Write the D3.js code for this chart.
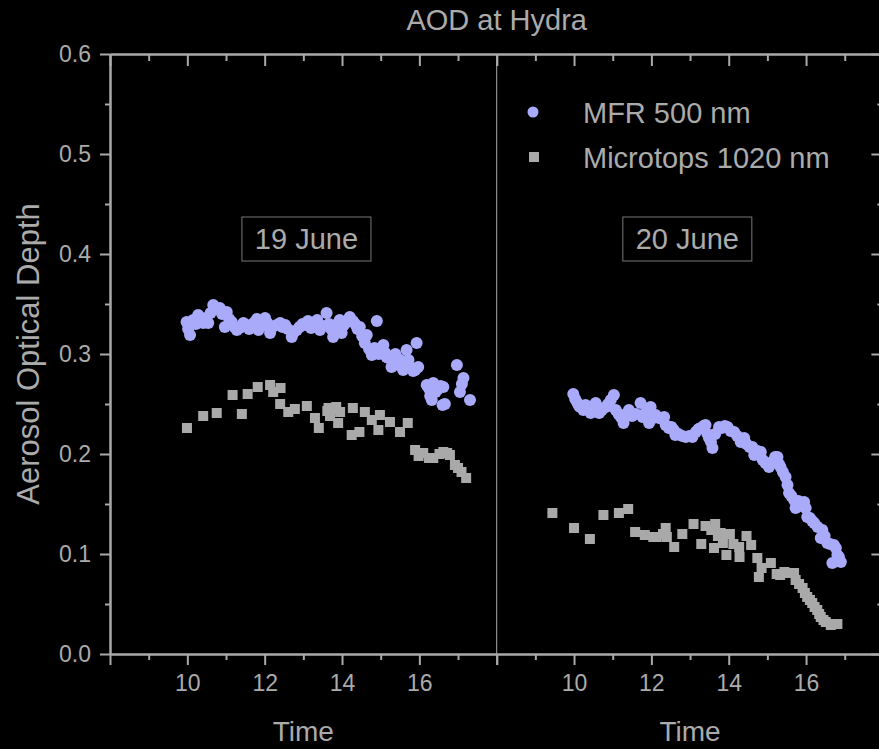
<!DOCTYPE html>
<html>
<head>
<meta charset="utf-8">
<script src="https://cdn.jsdelivr.net/npm/d3@7"></script>
<style>
  html, body { margin: 0; padding: 0; background: #000; overflow: hidden; }
  text { font-family: "Liberation Sans", Arial, sans-serif; fill: #ababab; }
</style>
</head>
<body>
<script>
// ---- data: [hour, aod] ----
var mfr19 = [
  [9.98,.332],[10.02,.325],[10.07,.319],[10.15,.334],[10.22,.330],[10.28,.339],[10.35,.334],[10.41,.331],
  [10.48,.336],[10.54,.331],[10.60,.341],[10.67,.349],[10.72,.345],[10.78,.346],[10.84,.346],[10.90,.340],
  [10.97,.327],[11.02,.342],[11.08,.335],[11.15,.332],[11.22,.327],[11.28,.324],[11.35,.326],[11.45,.331],
  [11.52,.328],[11.60,.325],[11.68,.330],[11.75,.332],[11.80,.335],[11.84,.324],[11.92,.328],[12.01,.336],
  [12.07,.331],[12.14,.321],[12.20,.327],[12.31,.329],[12.40,.331],[12.46,.327],[12.53,.329],[12.60,.325],
  [12.70,.317],[12.76,.322],[12.83,.324],[12.90,.327],[12.98,.330],[13.04,.329],[13.12,.333],[13.20,.326],
  [13.30,.332],[13.36,.334],[13.43,.324],[13.50,.328],[13.60,.341],[13.66,.330],[13.72,.325],[13.77,.317],
  [13.82,.329],[13.88,.326],[13.94,.334],[13.99,.321],[14.05,.329],[14.12,.332],[14.20,.337],[14.28,.333],
  [14.34,.330],[14.40,.325],[14.46,.327],[14.52,.318],[14.59,.311],[14.64,.319],[14.70,.305],[14.77,.299],
  [14.84,.306],[14.90,.333],[14.95,.300],[15.03,.304],[15.07,.309],[15.12,.301],[15.15,.297],[15.20,.296],
  [15.28,.287],[15.33,.292],[15.38,.300],[15.42,.296],[15.46,.289],[15.50,.294],[15.55,.292],[15.58,.284],
  [15.62,.290],[15.67,.304],[15.72,.294],[15.78,.286],[15.84,.283],[15.89,.284],[15.93,.311],[15.97,.287],
  [16.19,.269],[16.24,.266],[16.28,.258],[16.32,.254],[16.36,.271],[16.42,.262],[16.48,.265],[16.55,.268],
  [16.62,.267],[16.60,.249],[16.66,.250],[16.97,.289],[17.05,.262],[17.10,.270],[17.14,.276],[17.31,.254]
];
var mtp19 = [
  [9.99,.226],[10.41,.238],[10.76,.241],[11.17,.259],[11.41,.240],[11.56,.260],[11.82,.267],[12.14,.269],
  [12.22,.262],[12.41,.266],[12.40,.250],[12.61,.242],[12.78,.245],[13.09,.248],[13.30,.236],[13.40,.226],
  [13.62,.243],[13.65,.246],[13.69,.238],[13.77,.245],[13.85,.247],[13.90,.231],[13.95,.242],[14.28,.246],
  [14.25,.219],[14.45,.222],[14.59,.242],[14.77,.234],[14.98,.239],[14.94,.224],[15.24,.232],[15.50,.222],
  [15.70,.231],[15.89,.204],[15.98,.198],[16.10,.201],[16.25,.196],[16.36,.196],[16.52,.200],[16.62,.202],
  [16.72,.201],[16.79,.199],[16.92,.189],[17.00,.186],[17.09,.182],[17.21,.176]
];
var mfr20 = [
  [9.98,.260],[10.03,.255],[10.09,.251],[10.13,.248],[10.17,.247],[10.24,.244],[10.30,.249],[10.36,.246],
  [10.43,.241],[10.50,.244],[10.56,.251],[10.62,.246],[10.65,.241],[10.72,.244],[10.82,.247],[10.88,.250],
  [10.95,.254],[11.03,.259],[11.08,.244],[11.15,.240],[11.21,.237],[11.28,.231],[11.35,.240],[11.42,.244],
  [11.50,.238],[11.60,.240],[11.72,.251],[11.77,.237],[11.82,.240],[11.88,.242],[11.94,.231],[11.98,.247],
  [12.05,.236],[12.11,.239],[12.20,.236],[12.28,.235],[12.33,.237],[12.37,.229],[12.45,.226],[12.52,.227],
  [12.58,.224],[12.62,.219],[12.70,.220],[12.80,.218],[12.89,.217],[12.98,.218],[13.06,.217],[13.15,.222],
  [13.22,.225],[13.28,.226],[13.35,.228],[13.40,.229],[13.45,.220],[13.49,.216],[13.54,.212],[13.58,.206],
  [13.65,.220],[13.75,.227],[13.82,.226],[13.90,.228],[13.97,.227],[14.05,.223],[14.14,.222],[14.22,.218],
  [14.31,.212],[14.40,.216],[14.46,.210],[14.54,.207],[14.61,.207],[14.66,.199],[14.75,.203],[14.83,.202],
  [14.88,.194],[14.95,.191],[15.04,.187],[15.12,.192],[15.20,.197],[15.26,.197],[15.30,.190],[15.34,.187],
  [15.40,.182],[15.47,.177],[15.52,.169],[15.56,.161],[15.62,.158],[15.69,.154],[15.73,.146],[15.80,.153],
  [15.88,.148],[15.95,.152],[15.99,.146],[16.03,.137],[16.10,.136],[16.16,.133],[16.21,.131],[16.30,.127],
  [16.38,.116],[16.42,.124],[16.48,.118],[16.55,.111],[16.62,.110],[16.68,.091],[16.72,.109],[16.77,.106],
  [16.81,.099],[16.85,.097],[16.90,.092]
];
var mtp20 = [
  [9.44,.141],[10.00,.126],[10.41,.115],[10.76,.139],[11.16,.141],[11.40,.145],[11.58,.122],[11.83,.119],
  [12.05,.117],[12.14,.117],[12.30,.120],[12.37,.126],[12.40,.117],[12.59,.107],[12.80,.120],[13.09,.130],
  [13.29,.110],[13.40,.128],[13.55,.124],[13.62,.106],[13.65,.130],[13.72,.118],[13.79,.121],[13.85,.111],
  [13.94,.099],[14.03,.120],[14.12,.110],[14.27,.107],[14.28,.097],[14.46,.118],[14.58,.109],[14.74,.096],
  [14.78,.077],[14.85,.086],[15.09,.091],[15.24,.080],[15.33,.079],[15.44,.082],[15.52,.081],[15.69,.081],
  [15.73,.074],[15.82,.070],[15.91,.066],[15.97,.061],[16.03,.057],[16.10,.054],[16.16,.051],[16.22,.047],
  [16.29,.044],[16.34,.040],[16.38,.037],[16.45,.034],[16.51,.032],[16.64,.029],[16.75,.030],[16.81,.030]
];

var days = ["19 June", "20 June"];
var seriesNames = ["MFR 500 nm", "Microtops 1020 nm"];
var yTicks = [0, 0.1, 0.2, 0.3, 0.4, 0.5, 0.6];
var yMinor = [0.05, 0.15, 0.25, 0.35, 0.45, 0.55];
var xMajor = [8, 10, 12, 14, 16, 18];
var xMinor = [9, 11, 13, 15, 17];
var xLabels = [10, 12, 14, 16];

var width = 879, height = 749;
var plotTop = 54, plotBottom = 654;
var panelW = 386.7;
var left0 = 110, left1 = left0 + panelW;

var axisColor = "#a9a9a9",
    mfrColor = "#aaaafa",
    mtpColor = "#a9a9a9";

var svg = d3.select("body").append("svg")
    .attr("width", width)
    .attr("height", height)
    .style("background", "#000");

var y = d3.scaleLinear().domain([0, 0.6]).range([plotBottom, plotTop]);

var panels = [
  { x: d3.scaleLinear().domain([8, 18]).range([left0, left1]), mfr: mfr19, mtp: mtp19, day: days[0], boxAt: [13.08, 0.415] },
  { x: d3.scaleLinear().domain([8, 18]).range([left1, left1 + panelW]), mfr: mfr20, mtp: mtp20, day: days[1], boxAt: [12.93, 0.415] }
];

function styleAxis(g) {
  g.selectAll("path, line").attr("stroke", axisColor).attr("stroke-width", 2);
  g.selectAll("text").attr("fill", "#ababab").style("font-size", "23px")
    .style("font-family", '"Liberation Sans", Arial, sans-serif');
}

// divider between the days
svg.append("line")
    .attr("x1", left1).attr("x2", left1)
    .attr("y1", plotTop).attr("y2", plotBottom)
    .attr("stroke", axisColor).attr("stroke-width", 1);

panels.forEach(function(p) {
  // bottom axis: outward ticks
  var gb = svg.append("g").attr("transform", "translate(0," + plotBottom + ")");
  gb.call(d3.axisBottom(p.x).tickValues(xMajor).tickSize(11).tickSizeOuter(0).tickPadding(10)
      .tickFormat(function(d) { return xLabels.indexOf(d) >= 0 ? d : ""; }));
  gb.append("g").call(d3.axisBottom(p.x).tickValues(xMinor).tickSize(6).tickSizeOuter(0).tickFormat(""));
  styleAxis(gb);

  // top axis: inward ticks
  var gt = svg.append("g").attr("transform", "translate(0," + plotTop + ")");
  gt.call(d3.axisTop(p.x).tickValues(xMajor).tickSize(-12).tickSizeOuter(0).tickFormat(""));
  gt.append("g").call(d3.axisTop(p.x).tickValues(xMinor).tickSize(-7).tickSizeOuter(0).tickFormat(""));
  styleAxis(gt);

  svg.append("text")
      .attr("x", d3.mean(p.x.range()))
      .attr("y", 741)
      .attr("text-anchor", "middle")
      .style("font-size", "28px")
      .text("Time");

  // date box
  var bx = p.x(p.boxAt[0]), by = y(p.boxAt[1]);
  svg.append("rect")
      .attr("x", bx - 64.5).attr("y", by - 22)
      .attr("width", 129).attr("height", 44)
      .attr("fill", "none").attr("stroke", "#777").attr("stroke-width", 1);
  svg.append("text")
      .attr("x", bx).attr("y", by + 10)
      .attr("text-anchor", "middle")
      .style("font-size", "29px")
      .text(p.day);

  svg.append("g").selectAll("rect")
      .data(p.mtp)
      .join("rect")
      .attr("x", function(d) { return p.x(d[0]) - 5; })
      .attr("y", function(d) { return y(d[1]) - 5; })
      .attr("width", 10).attr("height", 10)
      .attr("fill", mtpColor);

  svg.append("g").selectAll("circle")
      .data(p.mfr)
      .join("circle")
      .attr("cx", function(d) { return p.x(d[0]); })
      .attr("cy", function(d) { return y(d[1]); })
      .attr("r", 6)
      .attr("fill", mfrColor);
});

// left y axis: outward ticks with labels
var gl = svg.append("g").attr("transform", "translate(" + left0 + ",0)");
gl.call(d3.axisLeft(y).tickValues(yTicks).tickSize(10).tickSizeOuter(0).tickPadding(9).tickFormat(d3.format(".1f")));
gl.append("g").call(d3.axisLeft(y).tickValues(yMinor).tickSize(5).tickSizeOuter(0).tickFormat(""));
styleAxis(gl);

// right y axis: inward ticks (sits just past the right edge)
var rightX = left1 + panelW;
var gr = svg.append("g").attr("transform", "translate(" + rightX + ",0)");
gr.call(d3.axisLeft(y).tickValues(yTicks).tickSize(12).tickSizeOuter(0).tickFormat(""));
gr.append("g").call(d3.axisLeft(y).tickValues(yMinor).tickSize(6).tickSizeOuter(0).tickFormat(""));
styleAxis(gr);

// titles
svg.append("text")
    .attr("x", left1).attr("y", 30)
    .attr("text-anchor", "middle")
    .style("font-size", "29px")
    .text("AOD at Hydra");

svg.append("text")
    .attr("transform", "translate(39," + (plotTop + plotBottom) / 2 + ") rotate(-90)")
    .attr("text-anchor", "middle")
    .style("font-size", "31px")
    .text("Aerosol Optical Depth");

// legend
var legend = svg.append("g");
legend.append("circle").attr("cx", 533).attr("cy", 112).attr("r", 5.5).attr("fill", mfrColor);
legend.append("rect").attr("x", 529).attr("y", 152).attr("width", 10).attr("height", 10).attr("fill", mtpColor);
legend.selectAll("text")
    .data(seriesNames)
    .join("text")
    .attr("x", 583)
    .attr("y", function(d, i) { return 123 + i * 45; })
    .style("font-size", "29px")
    .text(function(d) { return d; });
</script>
</body>
</html>
